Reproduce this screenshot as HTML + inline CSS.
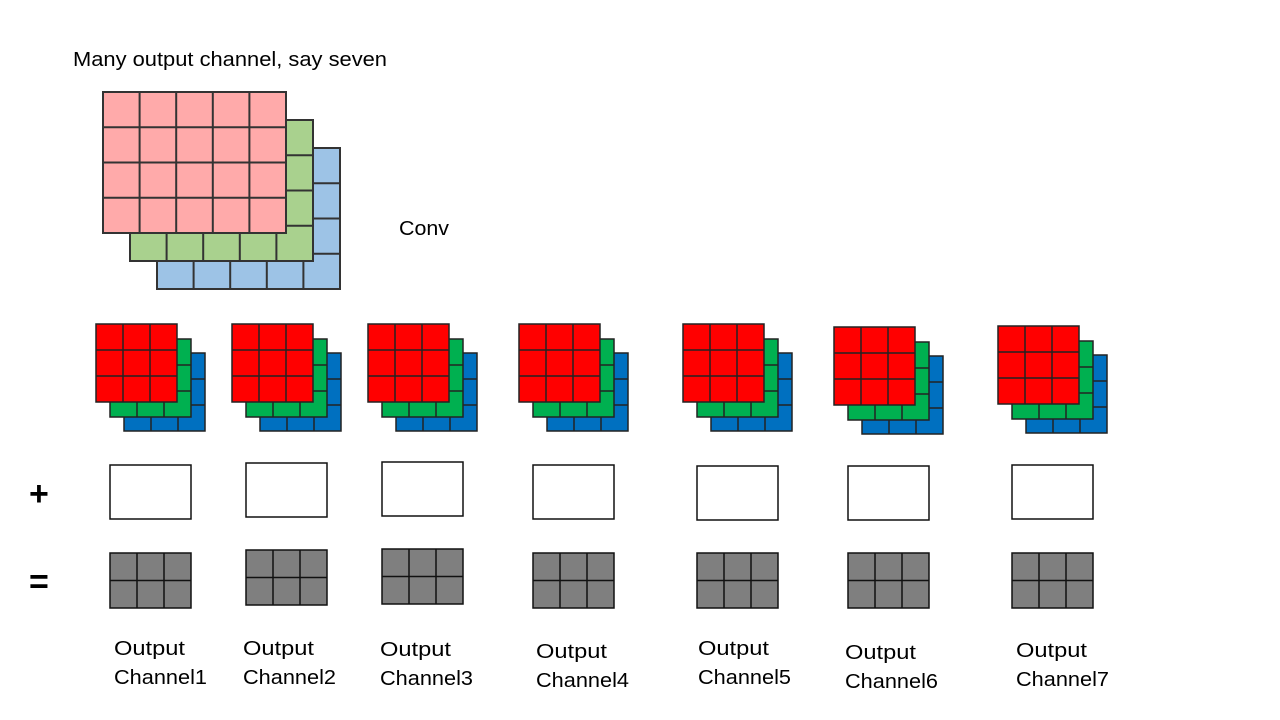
<!DOCTYPE html>
<html><head><meta charset="utf-8">
<style>
html,body{margin:0;padding:0;background:#fff;}
svg{display:block;}
text{font-family:"Liberation Sans",sans-serif;fill:#000;}
</style></head>
<body>
<svg id="s" width="1280" height="720" viewBox="0 0 1280 720">
<text x="73" y="66" font-size="20" textLength="314" lengthAdjust="spacingAndGlyphs">Many output channel, say seven</text>
<text x="399" y="235" font-size="20" textLength="50" lengthAdjust="spacingAndGlyphs">Conv</text>
<text x="29" y="505" font-size="34" font-weight="bold">+</text>
<text x="29" y="593" font-size="34" font-weight="bold">=</text>
</svg>
<script>
const channels=["1","2","3","4","5","6","7"];
const filterX=[96,232,368,519,683,834,998];
const filterY=[324,324,324,324,324,327,326];
const biasX=[110,246,382,533,697,848,1012];
const biasY=[465,463,462,465,466,466,465];
const outY=[553,550,549,553,553,553,553];
const labelX=[114,243,380,536,698,845,1016];
const labelY=[655,655,656,658,655,659,657];
const NS="http://www.w3.org/2000/svg";
const s=document.getElementById('s');
function el(tag,attrs,parent){const e=document.createElementNS(NS,tag);for(const k in attrs)e.setAttribute(k,attrs[k]);(parent||s).appendChild(e);return e;}
function grid(g,x,y,cols,rows,cw,ch,fill,stroke,sw){
  el('rect',{x:x,y:y,width:cols*cw,height:rows*ch,fill:fill,stroke:stroke,'stroke-width':sw},g);
  for(let i=1;i<cols;i++)el('line',{x1:x+i*cw,y1:y,x2:x+i*cw,y2:y+rows*ch,stroke:stroke,'stroke-width':sw},g);
  for(let j=1;j<rows;j++)el('line',{x1:x,y1:y+j*ch,x2:x+cols*cw,y2:y+j*ch,stroke:stroke,'stroke-width':sw},g);
}
const inp=el('g',{});


grid(inp,157,148,5,4,36.6,35.25,'#9dc3e6','#333',2);
grid(inp,130,120,5,4,36.6,35.25,'#a9d18e','#333',2);
grid(inp,103,92,5,4,36.6,35.25,'#ffaaaa','#333',2);
channels.forEach((c,i)=>{
  const g=el('g',{});
  
  
  const x=filterX[i],y=filterY[i];
  grid(g,x+28,y+29,3,3,27,26,'#0070c0','#222',1.5);
  grid(g,x+14,y+15,3,3,27,26,'#00b050','#222',1.5);
  grid(g,x,y,3,3,27,26,'#ff0000','#222',1.5);
  const b=el('rect',{x:biasX[i],y:biasY[i],width:81,height:54,fill:'#fff',stroke:'#111','stroke-width':1.5});
  
  
  const o=el('g',{});
  
  
  grid(o,biasX[i],outY[i],3,2,27,27.5,'#7f7f7f','#111',1.5);
  const t=el('text',{x:labelX[i],y:labelY[i],'font-size':20});
  
  
  el('tspan',{x:labelX[i],textLength:71,lengthAdjust:'spacingAndGlyphs'},t).textContent='Output';
  el('tspan',{x:labelX[i],dy:29,textLength:93,lengthAdjust:'spacingAndGlyphs'},t).textContent='Channel'+c;
});
</script>
</body></html>
